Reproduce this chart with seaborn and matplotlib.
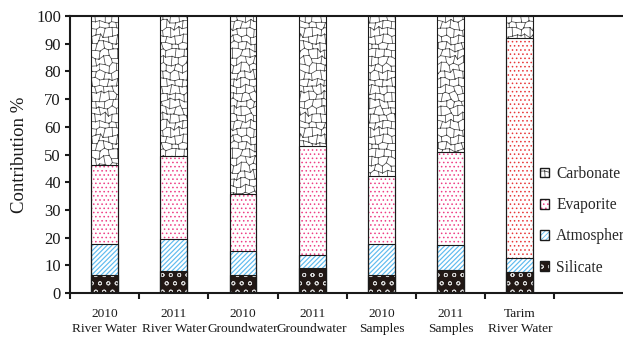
import warnings

import numpy as np
import pandas as pd
import matplotlib
matplotlib.use("Agg")
import matplotlib.pyplot as plt
import matplotlib.hatch as mhatch
from matplotlib.path import Path
from matplotlib.patches import Patch
import seaborn as sns

warnings.filterwarnings("ignore", category=matplotlib.MatplotlibDeprecationWarning)

# ---- data -----------------------------------------------------------------
categories = ["2010\nRiver Water", "2011\nRiver Water", "2010\nGroundwater",
              "2011\nGroundwater", "2010\nSamples", "2011\nSamples",
              "Tarim\nRiver Water"]
silicate = [6.5, 7.8, 6.5, 9.2, 6.5, 8.2, 7.6]
atmosphere = [11.1, 11.6, 8.5, 4.6, 11.1, 9.0, 5.0]
evaporite = [28.6, 30.2, 20.7, 39.4, 24.8, 33.8, 79.5]
carbonate = [53.8, 50.4, 64.3, 46.8, 57.6, 49.0, 7.9]
sources = ["Carbonate", "Evaporite", "Atmosphere", "Silicate"]
y_ticks = list(range(0, 101, 10))


# ---- a stone-wall hatch ("c") for the carbonate fill -----------------------
class CobbleHatch(mhatch.HatchPatternBase):
    """Irregular polygon cells, tiled seamlessly over the hatch unit square."""
    nx, ny, amp = 24, 14, 0.30

    def __init__(self, hatch, density):
        self.segments = self._build() if "c" in hatch else []
        self.num_vertices = 2 * len(self.segments)

    @classmethod
    def _build(cls):
        def wobble(i, j, k):
            v = np.sin(i * 12.9898 + j * 78.233 + k * 37.719) * 43758.5453
            return (v - np.floor(v) - 0.5) * 2 * cls.amp

        def pt(i, j):
            ii, jj = i % cls.nx, j % cls.ny
            return ((i + wobble(ii, jj, 1)) / cls.nx,
                    (j + wobble(ii, jj, 2)) / cls.ny)

        segs = []
        for i in range(cls.nx):
            for j in range(cls.ny):
                segs.append((pt(i, j), pt(i + 1, j)))
                if (i + j) % 2 == 0:
                    segs.append((pt(i, j), pt(i, j + 1)))
        out = []
        for a, b in segs:
            for sx in (-1, 0, 1):
                for sy in (-1, 0, 1):
                    xs = (a[0] + sx, b[0] + sx)
                    ys = (a[1] + sy, b[1] + sy)
                    if max(xs) >= 0 and min(xs) <= 1 and max(ys) >= 0 and min(ys) <= 1:
                        out.append(((xs[0], ys[0]), (xs[1], ys[1])))
        return out

    def set_vertices_and_codes(self, vertices, codes):
        vertices[:] = np.asarray(self.segments, dtype=float).reshape(-1, 2)
        codes[0::2] = Path.MOVETO
        codes[1::2] = Path.LINETO


mhatch._hatch_types.append(CobbleHatch)

# ---- style ----------------------------------------------------------------
sns.set_style("ticks")
plt.rcParams["font.family"] = ["Liberation Serif", "DejaVu Serif"]
plt.rcParams["hatch.linewidth"] = 0.6
plt.rcParams["axes.linewidth"] = 1.5

INK = "#1a1a1a"
styles = {
    # face, hatch colour, hatch, hatch line width
    "Carbonate": ("white", "#4d4d4d", "c", 0.55),
    "Evaporite": ("white", "#ee3f86", "....", 0.6),
    "Atmosphere": ("white", "#5fbbef", "///////", 0.85),
    "Silicate": ("#221815", "#d4d4d4", "oo", 0.6),
}
tarim_evaporite = "#e8383a"

df = pd.DataFrame({"category": categories, "Silicate": silicate,
                   "Atmosphere": atmosphere, "Evaporite": evaporite,
                   "Carbonate": carbonate})
# cumulative tops of each stacked segment
df["top_Silicate"] = df["Silicate"]
df["top_Atmosphere"] = df["top_Silicate"] + df["Atmosphere"]
df["top_Evaporite"] = df["top_Atmosphere"] + df["Evaporite"]
df["top_Carbonate"] = df["top_Evaporite"] + df["Carbonate"]

fig = plt.figure(figsize=(6.23, 3.37), dpi=100)
ax = fig.add_axes([70 / 623, 44 / 337, 560.5 / 623, 277 / 337])

BAR_W = 0.39


def set_hatch_width(patch, lw):
    if hasattr(patch, "set_hatch_linewidth"):
        patch.set_hatch_linewidth(lw)


# filled, hatched layers: tallest first, each lower layer drawn over it
for name in sources:
    face, hcol, hatch, hlw = styles[name]
    n0 = len(ax.patches)
    sns.barplot(data=df, x="category", y=f"top_{name}", order=categories,
                color=face, saturation=1, width=BAR_W, edgecolor=hcol,
                linewidth=0, hatch=hatch, errorbar=None, ax=ax)
    for p in ax.patches[n0:]:
        set_hatch_width(p, hlw)
    if name == "Evaporite":
        ax.patches[n0 + categories.index("Tarim\nRiver Water")].set_edgecolor(tarim_evaporite)

# black outlines around every segment
for name in sources:
    sns.barplot(data=df, x="category", y=f"top_{name}", order=categories,
                fill=False, color=INK, width=BAR_W, linewidth=0.8,
                errorbar=None, ax=ax)

# ---- axes -----------------------------------------------------------------
ax.set_xlim(-0.5, 7.6)
ax.set_ylim(0, 100)
ax.set_yticks(y_ticks)
ax.set_xticks(np.arange(-0.5, len(categories)), labels=[])
ax.set_xticks(range(len(categories)), labels=categories, minor=True)
ax.set_xlabel("")
ax.set_ylabel("Contribution %", fontsize=13.5, labelpad=6, color=INK)

ax.tick_params(axis="y", which="major", length=3.5, width=1.5, labelsize=12,
               pad=3, colors=INK)
ax.tick_params(axis="x", which="major", length=4, width=1.5, colors=INK)
ax.tick_params(axis="x", which="minor", length=0, pad=11, labelsize=9.6,
               labelcolor=INK)
for lbl in ax.get_xticklabels(minor=True):
    lbl.set_linespacing(1.3)

for side in ("left", "bottom", "top"):
    ax.spines[side].set_visible(True)
    ax.spines[side].set_color(INK)
ax.spines["right"].set_visible(False)

# ---- legend ---------------------------------------------------------------
handles = []
for name in sources:
    face, hcol, hatch, hlw = styles[name]
    swatch = Patch(facecolor=face, edgecolor=hcol, hatch=hatch, linewidth=0)
    set_hatch_width(swatch, hlw)
    handles.append((swatch, Patch(facecolor="none", edgecolor=INK, linewidth=1.0)))
fig.legend(handles, sources, loc="upper left", bbox_to_anchor=(540 / 623, 1 - 166 / 337),
           frameon=False, fontsize=11.2, borderpad=0, borderaxespad=0,
           handlelength=0.6, handleheight=0.6, handletextpad=0.45,
           labelspacing=0.98)

fig.savefig("out.png", dpi=100)
